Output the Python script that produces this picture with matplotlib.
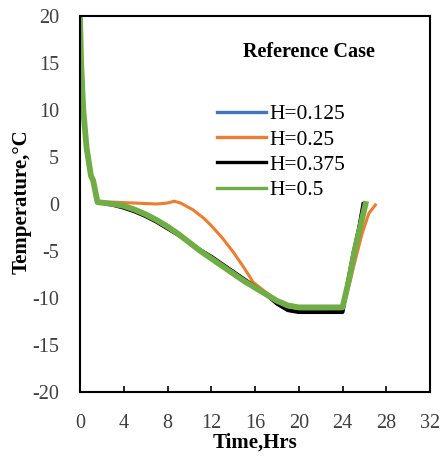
import matplotlib
matplotlib.use("Agg")
import matplotlib.pyplot as plt

plt.rcParams['font.family'] = ['Liberation Serif', 'DejaVu Serif']
plt.rcParams['axes.unicode_minus'] = False

# Cooling curves: temperature (°C) versus time (hours) for four H values
t_h0125 = [0, 0.1, 0.3, 0.6, 1.0, 1.2, 1.6, 3, 4, 5, 6, 7, 8, 9, 10, 11, 12, 13, 14, 15, 16, 17, 18, 19, 20, 22, 24, 24.5, 25, 25.5, 25.9]
T_h0125 = [20, 15, 10, 6, 3, 2.5, 0.2, -0.1, -0.4, -0.8, -1.3, -1.9, -2.6, -3.3, -4.1, -4.9, -5.6, -6.4, -7.2, -8.0, -8.8, -9.6, -10.6, -11.3, -11.5, -11.5, -11.5, -8.2, -5.2, -2.6, 0]

t_h025 = [0, 0.1, 0.3, 0.6, 1.0, 1.2, 1.6, 3, 5, 7, 8, 8.6, 9.2, 10.3, 11.3, 12, 13, 14, 15, 15.5, 15.8, 17, 18, 19, 20, 22, 24, 24.6, 25.2, 25.8, 26.4, 27]
T_h025 = [20, 15, 10, 6, 3, 2.5, 0.2, 0.2, 0.1, 0.0, 0.1, 0.3, 0.1, -0.6, -1.5, -2.3, -3.6, -5.1, -6.8, -7.7, -8.3, -9.4, -10.3, -10.9, -11.1, -11.1, -11.3, -8.6, -5.8, -3.1, -1.0, -0.1]

t_h0375 = [0, 0.1, 0.3, 0.6, 1.0, 1.2, 1.6, 3, 4, 5, 6, 7, 8, 9, 10, 11, 12, 13, 14, 15, 16, 17, 18, 19, 20, 22, 24, 24.5, 25, 25.5, 25.9]
T_h0375 = [20, 15, 10, 6, 3, 2.5, 0.2, -0.1, -0.4, -0.8, -1.3, -1.9, -2.6, -3.3, -4.1, -4.9, -5.6, -6.4, -7.2, -8.0, -8.8, -9.6, -10.6, -11.3, -11.5, -11.5, -11.5, -8.2, -5.2, -2.6, 0]

t_h05 = [0, 0.1, 0.3, 0.6, 1.0, 1.2, 1.6, 3, 4, 5, 6, 7, 8, 9, 10, 11, 12, 13, 14, 15, 16, 17, 18, 19, 20, 22, 24, 24.6, 25.1, 25.6, 26.1]
T_h05 = [20, 15, 10, 6, 3, 2.5, 0.2, 0.0, -0.2, -0.6, -1.1, -1.7, -2.4, -3.2, -4.1, -5.0, -5.8, -6.6, -7.4, -8.2, -8.9, -9.6, -10.3, -10.8, -11.0, -11.0, -11.0, -8.0, -5.0, -2.5, 0]

labels = ['H=0.125', 'H=0.25', 'H=0.375', 'H=0.5']
colors = ['#4472C4', '#ED7D31', '#000000', '#70AD47']
widths = [2.2, 2.2, 2.8, 4.2]

x_ticks = [0, 4, 8, 12, 16, 20, 24, 28, 32]
y_ticks = [-20, -15, -10, -5, 0, 5, 10, 15, 20]

fig = plt.figure(figsize=(4.42, 4.65), dpi=100)
ax = fig.add_axes([0.181, 0.157, 0.792, 0.8086])

series = [(t_h0125, T_h0125), (t_h025, T_h025), (t_h0375, T_h0375), (t_h05, T_h05)]
for (t, T), lab, c, w in zip(series, labels, colors, widths):
    ax.plot(t, T, color=c, lw=w, label=lab, solid_joinstyle='round')

ax.set_xlim(0, 32)
ax.set_ylim(-20, 20)
ax.set_xticks(x_ticks)
ax.set_yticks(y_ticks)
ax.tick_params(axis='x', direction='in', length=4, width=1.2, labelsize=14.5, pad=15.5,
               color='black', labelcolor='#404040')
ax.tick_params(axis='y', length=0, labelsize=14.5, pad=15, labelcolor='#404040')
for s in ax.spines.values():
    s.set_linewidth(1.5)

ax.set_xlabel('Time,Hrs', fontsize=15, fontweight='bold')
ax.xaxis.set_label_coords(0.5, -0.107)
ax.set_ylabel('Temperature,\u00b0C', fontsize=15, fontweight='bold')
ax.yaxis.set_label_coords(-0.139, 0.505)

ax.text(0.654, 0.904, 'Reference Case', transform=ax.transAxes, fontsize=14.5,
        fontweight='bold', ha='center', va='center')

leg_handles = [plt.Line2D([], [], color=c, lw=2.4) for c in colors]
ax.legend(leg_handles, labels, loc='upper left', bbox_to_anchor=(0.391, 0.765),
          frameon=False, fontsize=15.5, handlelength=2.3, handletextpad=0.15,
          labelspacing=0.24, borderpad=0, borderaxespad=0)

fig.savefig('out.png', dpi=100)
